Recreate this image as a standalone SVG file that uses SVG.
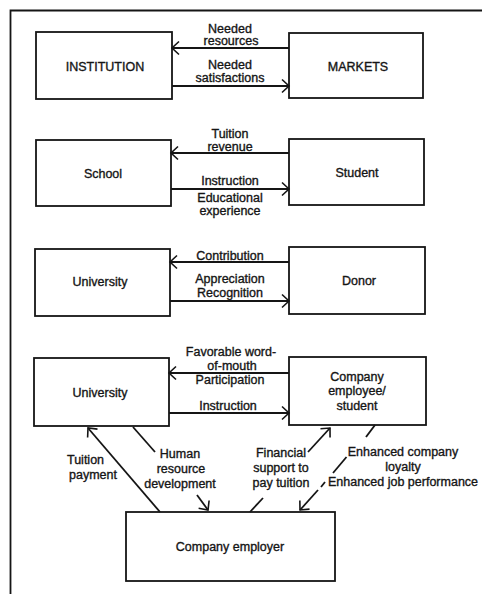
<svg xmlns="http://www.w3.org/2000/svg" width="483" height="594" viewBox="0 0 483 594">
<defs>
<style>
.bx{fill:#fff;stroke:#151515;stroke-width:1.8}
.ln{fill:none;stroke:#151515;stroke-width:1.8}
.ar{fill:none;stroke:#151515;stroke-width:1.8;marker-end:url(#ah)}
text{font-family:"Liberation Sans",Arial,sans-serif;font-size:12.5px;fill:#151515;stroke:#151515;stroke-width:0.35;text-anchor:middle}
.st{text-anchor:start}
</style>
<marker id="ah" viewBox="-10 -8 12 16" refX="0" refY="0" markerWidth="12" markerHeight="16" markerUnits="userSpaceOnUse" orient="auto">
<path d="M-7,-6.5 L0,0 L-7,6.5" fill="none" stroke="#151515" stroke-width="1.6"/>
</marker>
</defs>
<rect width="483" height="594" fill="#fff"/>
<path class="ln" d="M10.5,594 V10.5 H482" stroke-width="1.5"/>

<g id="institution"><rect class="bx" x="36" y="32" width="136" height="67"/><text x="105" y="70.5">INSTITUTION</text></g>
<g id="markets"><rect class="bx" x="289" y="33" width="134" height="65"/><text x="358" y="70.5">MARKETS</text></g>
<g id="school"><rect class="bx" x="36" y="140" width="135" height="66"/><text x="103" y="177.5">School</text></g>
<g id="student"><rect class="bx" x="289" y="139" width="135" height="66"/><text x="357" y="176.5">Student</text></g>
<g id="university1"><rect class="bx" x="35" y="249" width="135" height="67"/><text x="100" y="285.5">University</text></g>
<g id="donor"><rect class="bx" x="289" y="247" width="136" height="67"/><text x="359" y="284.5">Donor</text></g>
<g id="university2"><rect class="bx" x="34" y="358" width="135" height="68"/><text x="100" y="396.5">University</text></g>
<g id="employee"><rect class="bx" x="289" y="357" width="137" height="68"/><text x="357" y="380.5">Company</text><text x="357" y="395">employee/</text><text x="357" y="410">student</text></g>
<g id="employer"><rect class="bx" x="126" y="512" width="209" height="69"/><text x="230" y="550.5">Company employer</text></g>

<g id="connectors">
<line class="ar" x1="289" y1="48" x2="172" y2="48"/>
<line class="ar" x1="172" y1="86" x2="289" y2="86"/>
<line class="ar" x1="289" y1="153" x2="171" y2="153"/>
<line class="ar" x1="171" y1="189" x2="289" y2="189"/>
<line class="ar" x1="289" y1="262" x2="170" y2="262"/>
<line class="ar" x1="170" y1="301" x2="289" y2="301"/>
<line class="ar" x1="289" y1="373" x2="169" y2="373"/>
<line class="ar" x1="169" y1="413" x2="289" y2="413"/>
<line class="ar" x1="160" y1="512" x2="88" y2="428"/>
<line class="ln" x1="133" y1="427" x2="155" y2="452"/>
<line class="ar" x1="197" y1="495" x2="208" y2="510"/>
<line class="ln" x1="250" y1="512" x2="263" y2="498"/>
<line class="ar" x1="308" y1="452" x2="330" y2="428"/>
<line class="ln" x1="375" y1="425" x2="366" y2="437"/>
<line class="ln" x1="346.5" y1="457" x2="333" y2="473"/>
<line class="ln" x1="325" y1="482" x2="321" y2="487"/>
<line class="ar" x1="318" y1="490" x2="300" y2="510"/>

<text x="230" y="32.5">Needed</text>
<text x="231" y="45">resources</text>
<text x="230" y="68.5">Needed</text>
<text x="230" y="82">satisfactions</text>
<text x="230" y="137.5">Tuition</text>
<text x="230" y="150.5">revenue</text>
<text x="230" y="185">Instruction</text>
<text x="230" y="201.5">Educational</text>
<text x="230" y="215">experience</text>
<text x="230" y="259.5">Contribution</text>
<text x="230" y="282.5">Appreciation</text>
<text x="230" y="296.5">Recognition</text>
<text x="231" y="356">Favorable word-</text>
<text x="232" y="370">of-mouth</text>
<text x="230" y="384">Participation</text>
<text x="228" y="409.5">Instruction</text>
<text class="st" x="67" y="464">Tuition</text>
<text class="st" x="69" y="479">payment</text>
<text x="180" y="457.5">Human</text>
<text x="181" y="472.5">resource</text>
<text x="180" y="487.5">development</text>
<text x="281" y="457">Financial</text>
<text x="281" y="472">support to</text>
<text x="281" y="487">pay tuition</text>
<text x="403" y="455.5">Enhanced company</text>
<text x="403" y="470.5">loyalty</text>
<text x="403" y="485.5">Enhanced job performance</text>
</g>
</svg>
